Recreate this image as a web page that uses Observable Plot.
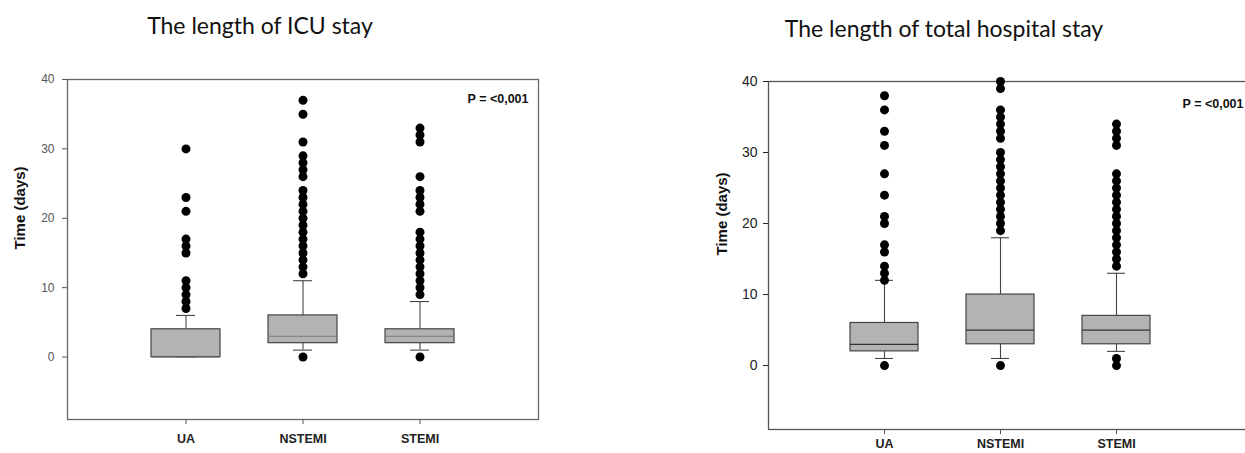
<!DOCTYPE html>
<html>
<head>
<meta charset="utf-8">
<script src="https://cdn.jsdelivr.net/npm/d3@7"></script>
<script src="https://cdn.jsdelivr.net/npm/@observablehq/plot@0.6"></script>
<style>
  html, body { margin: 0; padding: 0; background: #fff; }
  #wrap { position: relative; width: 1245px; height: 453px; overflow: hidden; background: #fff; }
  .title { position: absolute; font-family: Lato, "Open Sans", sans-serif; font-size: 23px; line-height: 1; color: #111; white-space: nowrap; transform: translateX(-50%); }
  .panel { position: absolute; top: 0; }
  .panel svg { overflow: visible; max-width: none !important; }
</style>
</head>
<body>
<div id="wrap">
  <div class="title" style="left:260px; top:14px;">The length of ICU stay</div>
  <div class="title" style="left:944px; top:17px;">The length of total hospital stay</div>
  <div class="panel" id="left" style="left:0px; width:545px;"></div>
  <div class="panel" id="right" style="left:680px; width:580px;"></div>
</div>
<script>
// ---------- data ----------
const categories = ["UA", "NSTEMI", "STEMI"];
const yTicks = [0, 10, 20, 30, 40];

// ICU stay (days)
const icuLow    = [0, 1, 1];
const icuQ1     = [0, 2, 2];
const icuMedian = [0, 3, 3];
const icuQ3     = [4, 6, 4];
const icuHigh   = [6, 11, 8];
const icuOutUA     = [7, 8, 9, 10, 11, 15, 16, 17, 21, 23, 30];
const icuOutNSTEMI = [0, 12, 13, 14, 15, 16, 17, 18, 19, 20, 21, 22, 23, 24, 26, 27, 28, 29, 31, 35, 37];
const icuOutSTEMI  = [0, 9, 10, 11, 12, 13, 14, 15, 16, 17, 18, 21, 22, 23, 24, 26, 31, 32, 33];

// Total hospital stay (days)
const hospLow    = [1, 1, 2];
const hospQ1     = [2, 3, 3];
const hospMedian = [3, 5, 5];
const hospQ3     = [6, 10, 7];
const hospHigh   = [12, 18, 13];
const hospOutUA     = [0, 12, 13, 14, 16, 17, 20, 21, 24, 27, 31, 33, 36, 38];
const hospOutNSTEMI = [0, 19, 20, 21, 22, 23, 24, 25, 26, 27, 28, 29, 30, 32, 33, 34, 35, 36, 39, 40];
const hospOutSTEMI  = [0, 1, 14, 15, 16, 17, 18, 19, 20, 21, 22, 23, 24, 25, 26, 27, 31, 32, 33, 34];

const pLabel = "P = <0,001";
const yLabel = "Time (days)";

// ---------- helpers ----------
function summaryRows(low, q1, med, q3, high) {
  return categories.map((c, i) => ({cat: c, low: low[i], q1: q1[i], median: med[i], q3: q3[i], high: high[i]}));
}
function outlierRows(lists) {
  const rows = [];
  categories.forEach((c, i) => lists[i].forEach(v => rows.push({cat: c, value: v})));
  return rows;
}

function panel(rows, outs, o) {
  return Plot.plot({
    width: o.width,
    height: 453,
    marginLeft: o.ml,
    marginRight: o.mr,
    marginTop: o.mt,
    marginBottom: o.mb,
    style: {fontFamily: "'Liberation Sans', Arial, sans-serif", background: "transparent", overflow: "visible", maxWidth: "none"},
    x: {type: "band", domain: categories, paddingInner: 0.41, paddingOuter: 0.705, insetRight: o.insetRight || 0},
    y: {domain: [-9, 40]},
    marks: [
      Plot.frame({stroke: o.frameColor, strokeWidth: 1.3}),
      Plot.ruleX(rows, {x: "cat", y1: "q3", y2: "high", stroke: "#444", strokeWidth: 1.1}),
      Plot.ruleX(rows, {x: "cat", y1: "low", y2: "q1", stroke: "#444", strokeWidth: 1.1}),
      Plot.tickY(rows, {x: "cat", y: "high", stroke: "#444", strokeWidth: 1.1, insetLeft: 25, insetRight: 25}),
      Plot.tickY(rows, {x: "cat", y: "low", stroke: "#444", strokeWidth: 1.1, insetLeft: 25, insetRight: 25}),
      Plot.barY(rows, {x: "cat", y1: "q1", y2: "q3", fill: "#b3b3b3", stroke: "#444", strokeWidth: 1.2}),
      Plot.tickY(rows, {x: "cat", y: "median", stroke: o.medianColor, strokeWidth: 1.2}),
      Plot.dot(outs, {x: "cat", y: "value", r: 4.5, fill: "#000", stroke: "none"}),
      Plot.axisY({ticks: yTicks, tickSize: 5, tickPadding: o.tp, fontSize: o.tickFont, fill: o.tickColor, stroke: o.tickColor, label: null}),
      Plot.axisX({tickSize: 5, tickPadding: o.xtp, fontSize: 12.5, fontWeight: "bold", fill: "#222", stroke: "#555", label: null}),
      Plot.text([yLabel], {frameAnchor: "left", dx: -o.labelDx, rotate: -90, text: d => d, fontSize: 15, fontWeight: "bold", fill: "#111"}),
      Plot.text([pLabel], {frameAnchor: "top-right", dx: o.pDx, dy: o.pDy, textAnchor: "end", text: d => d, fontSize: 12.5, fontWeight: "bold", fill: "#111"})
    ]
  });
}

const leftRows = summaryRows(icuLow, icuQ1, icuMedian, icuQ3, icuHigh);
const leftOuts = outlierRows([icuOutUA, icuOutNSTEMI, icuOutSTEMI]);
document.getElementById("left").appendChild(panel(leftRows, leftOuts, {
  width: 545, ml: 67, mr: 7, mt: 79, mb: 34, tp: 8, xtp: 10, tickFont: 12, tickColor: "#555",
  frameColor: "#666", medianColor: "#777", labelDx: 47, pDx: -10, pDy: 15
}));

const rightRows = summaryRows(hospLow, hospQ1, hospMedian, hospQ3, hospHigh);
const rightOuts = outlierRows([hospOutUA, hospOutNSTEMI, hospOutSTEMI]);
document.getElementById("right").appendChild(panel(rightRows, rightOuts, {
  width: 580, ml: 88, mr: 7, mt: 81, mb: 24, tp: 6, xtp: 5, tickFont: 14, tickColor: "#222",
  frameColor: "#555", medianColor: "#333", labelDx: 46, pDx: -10, pDy: 18, insetRight: 20
}));
</script>
</body>
</html>
